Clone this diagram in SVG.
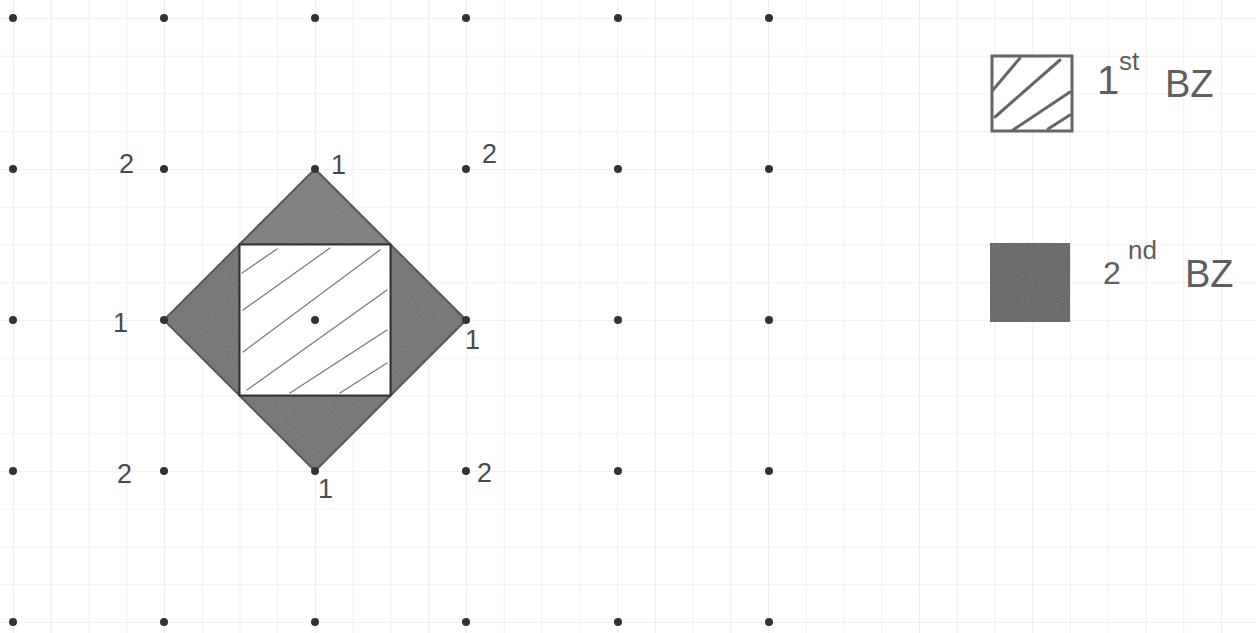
<svg xmlns="http://www.w3.org/2000/svg" width="1256" height="633" viewBox="0 0 1256 633">
<style>
.dot{fill:#333}
.lbl{font-family:"Liberation Sans",Arial,sans-serif;fill:#4a4a4a;font-size:27px}
.leg{font-family:"Liberation Sans",Arial,sans-serif;fill:#5e5e5e}
.bz2{fill:#6c6c6c;stroke:#333;stroke-width:2;stroke-linejoin:round}
.hatch{stroke:#777;stroke-width:1.2;fill:none;stroke-linecap:round}
.lhatch{stroke:#666;stroke-width:3;fill:none;stroke-linecap:round}
</style>
<defs>
<pattern id="grid" x="13" y="18" width="37.75" height="37.75" patternUnits="userSpaceOnUse">
<path d="M0 0H37.75M0 0V37.75" stroke="#e3e3e3" stroke-width="1.2" fill="none"/>
</pattern>
<filter id="grain" x="0" y="0" width="100%" height="100%">
<feTurbulence type="fractalNoise" baseFrequency="0.9" numOctaves="2" seed="3" result="n"/>
<feColorMatrix in="n" type="matrix" values="0 0 0 0 0.3  0 0 0 0 0.3  0 0 0 0 0.3  0 0 0 0.55 0" result="g"/>
<feComposite in="g" in2="SourceGraphic" operator="in" result="gg"/>
<feMerge><feMergeNode in="SourceGraphic"/><feMergeNode in="gg"/></feMerge>
</filter>
</defs>
<rect width="1256" height="633" fill="#ffffff"/>
<rect width="1256" height="633" fill="url(#grid)"/>

<g id="bz2">
<polygon class="bz2" filter="url(#grain)" points="315,169 239.5,244.5 390.5,244.5" style="fill:#7a7a7a"/>
<polygon class="bz2" filter="url(#grain)" points="164,320 239.5,244.5 239.5,395.5"/>
<polygon class="bz2" filter="url(#grain)" points="466,320 390.5,244.5 390.5,395.5"/>
<polygon class="bz2" filter="url(#grain)" points="315,471 239.5,395.5 390.5,395.5"/>
</g>

<g id="bz1">
<rect x="239.5" y="244.5" width="151" height="151" fill="#ffffff" stroke="#333" stroke-width="2"/>
<path class="hatch" d="M242,273 L277,249 M243,310 L330,248 M243,352 L380,250 M247,390 L387,290 M290,393 L387,330 M340,393 L387,363"/>
</g>

<g id="lattice">
<circle class="dot" cx="13" cy="18" r="4"/><circle class="dot" cx="164" cy="18" r="4"/><circle class="dot" cx="315" cy="18" r="4"/><circle class="dot" cx="466" cy="18" r="4"/><circle class="dot" cx="618" cy="18" r="4"/><circle class="dot" cx="769" cy="18" r="4"/>
<circle class="dot" cx="13" cy="169" r="4"/><circle class="dot" cx="164" cy="169" r="4"/><circle class="dot" cx="315" cy="169" r="4"/><circle class="dot" cx="466" cy="169" r="4"/><circle class="dot" cx="618" cy="169" r="4"/><circle class="dot" cx="769" cy="169" r="4"/>
<circle class="dot" cx="13" cy="320" r="4"/><circle class="dot" cx="164" cy="320" r="4"/><circle class="dot" cx="315" cy="320" r="4"/><circle class="dot" cx="466" cy="320" r="4"/><circle class="dot" cx="618" cy="320" r="4"/><circle class="dot" cx="769" cy="320" r="4"/>
<circle class="dot" cx="13" cy="471" r="4"/><circle class="dot" cx="164" cy="471" r="4"/><circle class="dot" cx="315" cy="471" r="4"/><circle class="dot" cx="466" cy="471" r="4"/><circle class="dot" cx="618" cy="471" r="4"/><circle class="dot" cx="769" cy="471" r="4"/>
<circle class="dot" cx="13" cy="622" r="4"/><circle class="dot" cx="164" cy="622" r="4"/><circle class="dot" cx="315" cy="622" r="4"/><circle class="dot" cx="466" cy="622" r="4"/><circle class="dot" cx="618" cy="622" r="4"/><circle class="dot" cx="769" cy="622" r="4"/>
</g>

<g id="labels">
<text class="lbl" x="119" y="173">2</text>
<text class="lbl" x="331" y="174">1</text>
<text class="lbl" x="482" y="163">2</text>
<text class="lbl" x="113" y="332">1</text>
<text class="lbl" x="465" y="349">1</text>
<text class="lbl" x="117" y="483">2</text>
<text class="lbl" x="318" y="498">1</text>
<text class="lbl" x="477" y="482">2</text>
</g>

<g id="legend-1st">
<rect x="992" y="56" width="80" height="75" fill="#ffffff" stroke="#666" stroke-width="3"/>
<path class="lhatch" d="M993,90 L1020,58 M995,117 L1060,60 M1013,130 L1070,92 M1048,129 L1070,115"/>
<text class="leg" x="1097" y="94" font-size="40">1</text>
<text class="leg" x="1119" y="70" font-size="26">st</text>
<text class="leg" x="1165" y="97" font-size="38">BZ</text>
</g>

<g id="legend-2nd">
<rect x="990" y="243" width="80" height="79" fill="#585858" filter="url(#grain)"/>
<text class="leg" x="1103" y="284" font-size="32">2</text>
<text class="leg" x="1128" y="259" font-size="26">nd</text>
<text class="leg" x="1185" y="287" font-size="38">BZ</text>
</g>
</svg>
